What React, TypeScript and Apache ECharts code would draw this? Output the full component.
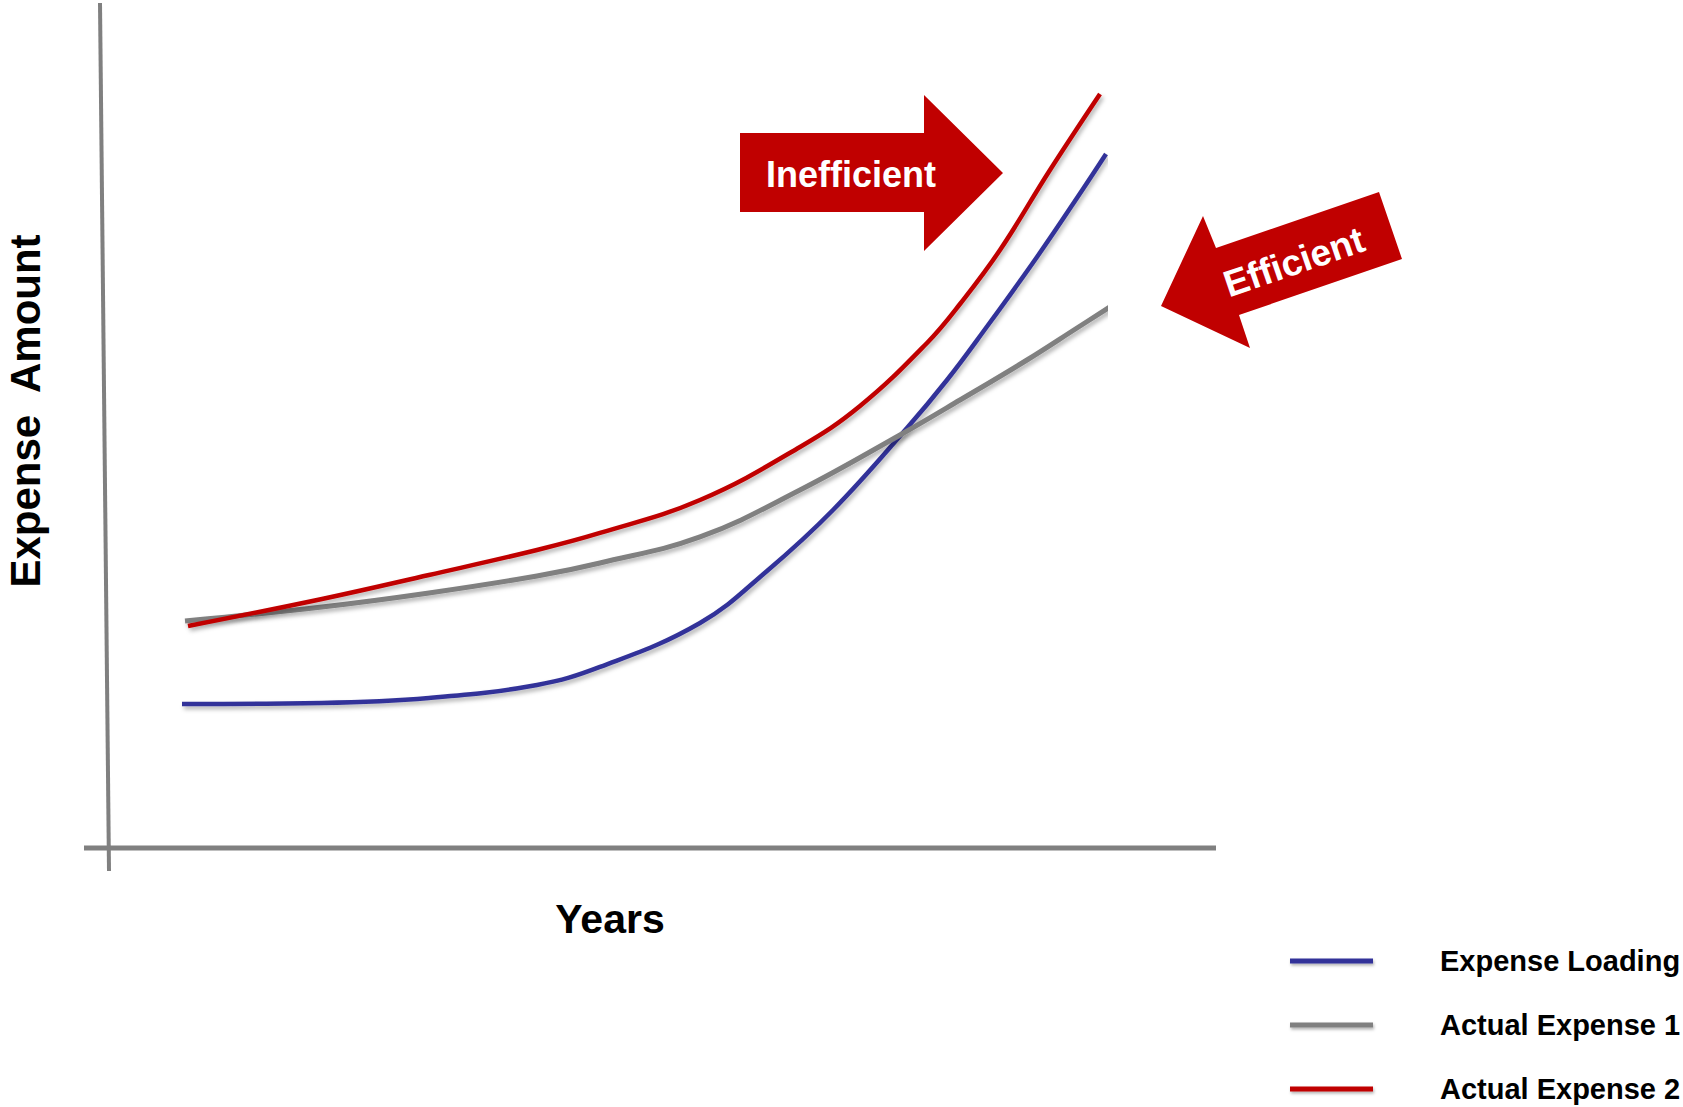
import React, { useEffect, useRef } from "react";
import * as echarts from "echarts";

// Curves: [year, expense] pairs
const expenseLoading: number[][] = [
  [0.77, 18.0], [2.17, 18.13], [3.24, 18.75], [4.32, 20.38], [4.95, 22.63],
  [5.95, 28.13], [6.62, 34.63], [7.28, 42.25], [8.02, 52.5], [8.42, 58.5],
  [8.78, 64.5], [9.32, 73.88], [9.78, 82.38], [10.01, 86.75],
];
const actualExpense1: number[][] = [
  [0.8, 28.38], [2.17, 30.13], [3.24, 31.88], [4.32, 34.0], [4.95, 35.63],
  [5.95, 38.88], [6.95, 44.75], [7.95, 51.63], [8.55, 56.0], [9.22, 61.0],
  [9.72, 65.0], [10.08, 67.88],
];
const actualExpense2: number[][] = [
  [0.83, 27.75], [2.17, 31.13], [3.24, 34.13], [4.32, 37.25], [4.95, 39.38],
  [5.95, 43.5], [6.95, 50.13], [7.55, 55.25], [8.22, 63.13], [8.55, 68.0],
  [8.95, 74.75], [9.45, 84.75], [9.95, 94.25],
];

const seriesNames = ["Expense Loading", "Actual Expense 1", "Actual Expense 2"];
const seriesColors = ["#333399", "#808080", "#C00000"];
const seriesData = [expenseLoading, actualExpense1, actualExpense2];

const xTitle = "Years";
const yTitle = "Expense  Amount";
const arrowLabels = ["Inefficient", "Efficient"];

const FONT = '"Liberation Sans", Arial, Helvetica, sans-serif';
const ARROW_RED = "#C00000";
const AXIS_GREY = "#808080";

export default function App() {
  const ref = useRef<HTMLDivElement>(null);

  useEffect(() => {
    if (!ref.current) return;
    const chart = echarts.init(ref.current, null, { renderer: "svg" });

    const shadow = {
      shadowColor: "rgba(0,0,0,0.3)",
      shadowBlur: 4,
      shadowOffsetX: 2,
      shadowOffsetY: 3,
    };

    chart.setOption({
      animation: false,
      backgroundColor: "#ffffff",
      grid: { left: 105, top: 48, width: 1000, height: 800, containLabel: false },
      xAxis: { type: "value", min: 0, max: 10, show: false },
      yAxis: { type: "value", min: 0, max: 100, show: false },
      legend: {
        orient: "vertical",
        left: 1290,
        top: 946,
        padding: 0,
        itemWidth: 83,
        itemHeight: 5,
        itemGap: 34,
        icon: "rect",
        selectedMode: false,
        data: seriesNames,
        itemStyle: { ...shadow, shadowBlur: 3, shadowOffsetX: 1, shadowOffsetY: 2 },
        textStyle: {
          fontFamily: FONT,
          fontSize: 29,
          fontWeight: "bold",
          color: "#000000",
          lineHeight: 30,
          padding: [0, 0, 0, 62],
        },
      },
      series: seriesNames.map((name, i) => ({
        name,
        type: "line",
        data: seriesData[i],
        smooth: 0.4,
        symbol: "none",
        showSymbol: false,
        color: seriesColors[i],
        itemStyle: { color: seriesColors[i] },
        lineStyle: { width: i === 1 ? 5 : 4.5, color: seriesColors[i], ...shadow },
        z: 3 + i,
      })),
      graphic: [
        // axes
        {
          type: "line",
          shape: { x1: 100, y1: 3, x2: 109, y2: 871 },
          style: { stroke: AXIS_GREY, lineWidth: 4 },
        },
        {
          type: "line",
          shape: { x1: 84, y1: 848, x2: 1216, y2: 848 },
          style: { stroke: AXIS_GREY, lineWidth: 5 },
        },
        // axis titles
        {
          type: "text",
          x: 610,
          y: 919,
          style: {
            text: xTitle,
            fill: "#000",
            fontFamily: FONT,
            fontSize: 41,
            fontWeight: "bold",
            align: "center",
            verticalAlign: "middle",
          },
        },
        {
          type: "text",
          x: 25,
          y: 411,
          rotation: Math.PI / 2,
          style: {
            text: yTitle,
            fill: "#000",
            fontFamily: FONT,
            fontSize: 42,
            fontWeight: "bold",
            align: "center",
            verticalAlign: "middle",
          },
        },
        // right-pointing arrow
        {
          type: "polygon",
          shape: {
            points: [
              [740, 133], [924, 133], [924, 95], [1003, 173],
              [924, 251], [924, 212], [740, 212],
            ],
          },
          style: { fill: ARROW_RED },
        },
        {
          type: "text",
          x: 851,
          y: 174,
          style: {
            text: arrowLabels[0],
            fill: "#ffffff",
            fontFamily: FONT,
            fontSize: 36,
            fontWeight: "bold",
            align: "center",
            verticalAlign: "middle",
          },
        },
        // tilted left-pointing arrow
        {
          type: "polygon",
          shape: {
            points: [
              [1161, 306], [1203, 216], [1216, 248], [1379, 192],
              [1402, 259], [1239, 315], [1250, 348],
            ],
          },
          style: { fill: ARROW_RED },
        },
        {
          type: "text",
          x: 1294,
          y: 262,
          rotation: (18.9 * Math.PI) / 180,
          style: {
            text: arrowLabels[1],
            fill: "#ffffff",
            fontFamily: FONT,
            fontSize: 37,
            fontWeight: "bold",
            align: "center",
            verticalAlign: "middle",
          },
        },
      ],
    });

    return () => chart.dispose();
  }, []);

  return (
    <div
      ref={ref}
      style={{ position: "fixed", left: 0, top: 0, width: 1683, height: 1107 }}
    />
  );
}
